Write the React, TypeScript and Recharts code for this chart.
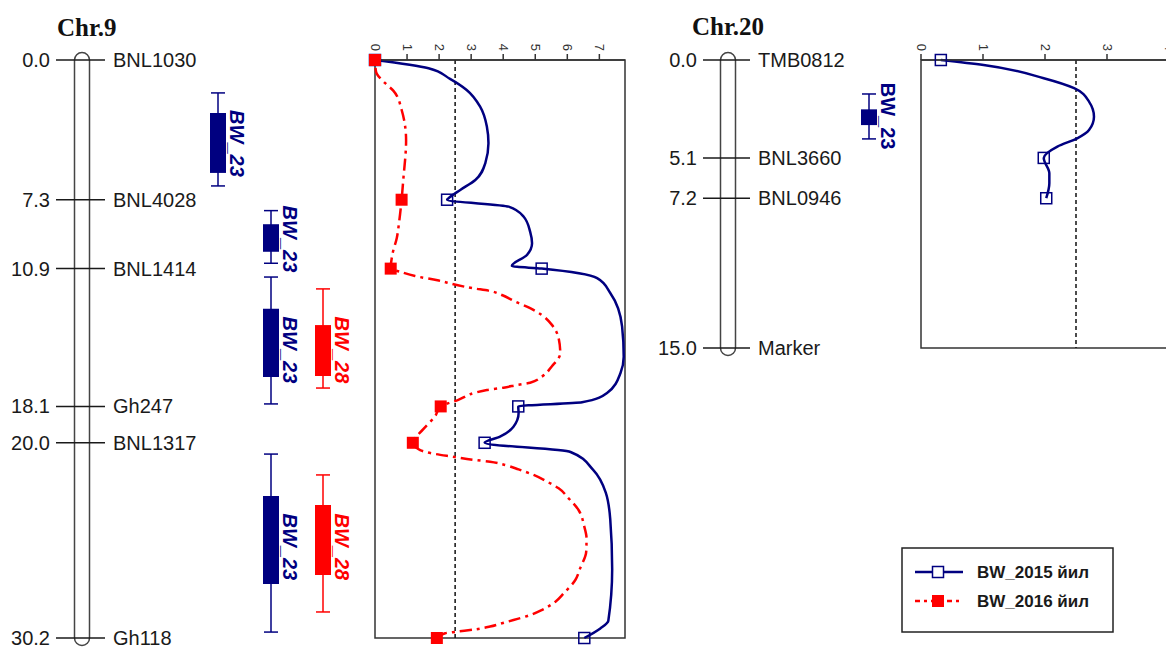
import {
  ComposedChart,
  LineChart,
  Line,
  XAxis,
  YAxis,
  ReferenceLine,
  ReferenceArea,
  ReferenceDot,
} from 'recharts'

const NAVY = '#000080'
const RED = '#FF0000'
const FRAME = '#333333'
const INK = '#1a1a1a'
const SANS = '"Liberation Sans", Arial, sans-serif'
const SERIF = '"Liberation Serif", "Times New Roman", serif'
const RED_DASH = '3 5 12 5'

// linkage maps (cM)
const CHR9_MARKERS = ['BNL1030', 'BNL4028', 'BNL1414', 'Gh247', 'BNL1317', 'Gh118']
const CHR9_POS = [0, 7.3, 10.9, 18.1, 20.0, 30.2]
const CHR20_MARKERS = ['TMB0812', 'BNL3660', 'BNL0946', 'Marker']
const CHR20_POS = [0, 5.1, 7.2, 15.0]

// QTL intervals: whisker lo/hi, box lo/hi, peak
const CHR9_QTL_TRAIT = ['BW_23', 'BW_23', 'BW_23', 'BW_28', 'BW_23', 'BW_28']
const CHR9_QTL_LANE = [0, 1, 1, 2, 1, 2]
const CHR9_QTL_LO = [1.72, 7.87, 11.34, 11.96, 20.59, 21.68]
const CHR9_QTL_BOX_LO = [2.77, 8.58, 13.0, 13.85, 22.78, 23.25]
const CHR9_QTL_PEAK = [4.36, 9.35, 15.15, 15.15, 25.44, 25.44]
const CHR9_QTL_BOX_HI = [5.9, 10.02, 16.56, 16.51, 27.38, 26.91]
const CHR9_QTL_HI = [6.58, 10.62, 17.97, 17.14, 29.89, 28.84]

const CHR20_QTL_TRAIT = ['BW_23']
const CHR20_QTL_LANE = [0]
const CHR20_QTL_LO = [1.77]
const CHR20_QTL_BOX_LO = [2.57]
const CHR20_QTL_PEAK = [2.92]
const CHR20_QTL_BOX_HI = [3.39]
const CHR20_QTL_HI = [4.11]

// LOD profiles
const CHR9_POS_2015 = [0, 0.43, 0.99, 1.57, 2.44, 3.48, 4.35, 5.4, 6.27, 6.79, 7.23, 7.3, 7.66, 8.19, 8.97, 9.58, 10.19, 10.76, 10.9, 11.4, 12.17, 13.93, 15.5, 16.35, 17.4, 17.88, 18.1, 18.46, 19.16, 19.68, 20.0, 20.48, 21.4, 22.6, 24.0, 26.6, 29.3, 29.7, 30.2]
const CHR9_LOD_2015 = [0, 1.67, 2.34, 2.86, 3.28, 3.49, 3.54, 3.44, 3.13, 2.66, 2.29, 2.25, 4.17, 4.64, 4.84, 4.9, 4.74, 4.27, 5.2, 6.93, 7.34, 7.71, 7.76, 7.66, 7.24, 6.46, 4.47, 4.48, 4.32, 3.9, 3.42, 6.1, 6.8, 7.2, 7.34, 7.4, 7.28, 7.03, 6.53]

const CHR9_POS_2016 = [0, 0.6, 1.2, 1.6, 2.6, 4.2, 6.3, 7.3, 8.5, 9.3, 10.1, 10.9, 11.06, 11.29, 11.51, 11.76, 11.93, 12.05, 12.28, 12.63, 12.97, 13.32, 13.84, 14.54, 15.32, 16.0, 16.55, 16.86, 16.98, 17.12, 17.24, 17.38, 17.76, 18.1, 18.6, 19.3, 20.0, 20.38, 20.55, 20.72, 20.9, 20.99, 21.16, 21.39, 21.68, 22.03, 22.38, 22.9, 23.51, 24.38, 24.99, 25.69, 26.56, 27.17, 27.86, 28.3, 28.74, 29.0, 29.26, 29.43, 29.6, 29.75, 29.87, 29.95, 30.2]
const CHR9_LOD_2016 = [0, 0.03, 0.31, 0.57, 0.83, 0.97, 0.88, 0.83, 0.75, 0.68, 0.55, 0.49, 0.78, 1.25, 1.95, 2.55, 3.07, 3.54, 3.96, 4.38, 4.84, 5.2, 5.52, 5.73, 5.78, 5.52, 5.2, 4.84, 4.43, 4.01, 3.49, 3.13, 2.6, 2.05, 1.88, 1.5, 1.18, 1.41, 1.77, 2.4, 3.13, 3.59, 4.06, 4.48, 4.95, 5.37, 5.73, 6.04, 6.35, 6.53, 6.6, 6.59, 6.4, 6.25, 5.89, 5.63, 5.2, 4.84, 4.32, 3.96, 3.59, 3.13, 2.55, 2.19, 1.93]

const CHR20_POS_2015 = [0, 0.26, 0.95, 1.47, 2.17, 2.95, 3.65, 4.08, 4.51, 5.1, 5.9, 6.42, 7.2]
const CHR20_LOD_2015 = [0.32, 1.01, 1.98, 2.47, 2.71, 2.79, 2.71, 2.52, 2.2, 1.98, 2.07, 2.07, 2.02]

const LOD_THRESHOLD = 2.5
const CHR9_LOD_TICKS = [0, 1, 2, 3, 4, 5, 6, 7]
const CHR20_LOD_TICKS = [0, 1, 2, 3, 4]

const LEGEND_LABELS = ['BW_2015 йил', 'BW_2016 йил']

const traitColor = (t: string) => (t === 'BW_28' ? RED : NAVY)

function buildQtl(trait: string[], lane: number[], lo: number[], boxLo: number[], peak: number[], boxHi: number[], hi: number[]) {
  return trait.map((t, i) => ({ trait: t, lane: lane[i], lo: lo[i], boxLo: boxLo[i], peak: peak[i], boxHi: boxHi[i], hi: hi[i] }))
}

function buildSeries(pos: number[], lod: number[]) {
  return pos.map((p, i) => ({ pos: p, lod: lod[i] }))
}

type Qtl = ReturnType<typeof buildQtl>[number]

interface MapProps {
  left: number
  width: number
  height: number
  maxPos: number
  markers: string[]
  positions: number[]
  qtl: Qtl[]
  barX: number
  tickX: [number, number]
  laneX: number[]
  italic: boolean
}

function ChromosomeMap({ left, width, height, maxPos, markers, positions, qtl, barX, tickX, laneX, italic }: MapProps) {
  const data = positions.map(p => ({ pos: p, x: barX }))
  return (
    <div style={{ position: 'absolute', left, top: 0 }}>
      <ComposedChart width={width} height={height} data={data} margin={{ top: 60, right: 0, bottom: 12, left: 0 }}>
        <XAxis type="number" dataKey="x" domain={[0, width]} allowDataOverflow hide />
        <YAxis type="number" dataKey="pos" domain={[0, maxPos]} allowDataOverflow reversed hide />
        <ReferenceArea
          x1={barX}
          x2={barX + 15}
          y1={0}
          y2={maxPos}
          ifOverflow="visible"
          shape={(p: any) => (
            <rect x={p.x} y={p.y - 7.5} width={p.width} height={p.height + 15} rx={7.5} fill="#fff" stroke="#444" strokeWidth={1.5} />
          )}
        />
        {markers.map((name, i) => (
          <ReferenceLine
            key={name}
            ifOverflow="visible"
            segment={[{ x: tickX[0], y: positions[i] }, { x: tickX[1], y: positions[i] }]}
            shape={(p: any) => (
              <g>
                <line x1={p.x1} y1={p.y1} x2={p.x2} y2={p.y2} stroke={INK} strokeWidth={1.5} />
                <text x={p.x1 - 6} y={p.y1} textAnchor="end" dominantBaseline="central" fontFamily={SANS} fontSize={20} fill={INK}>
                  {positions[i].toFixed(1)}
                </text>
                <text x={p.x2 + 8} y={p.y1} dominantBaseline="central" fontFamily={SANS} fontSize={20} fill={INK}>
                  {name}
                </text>
              </g>
            )}
          />
        ))}
        {qtl.map((q, i) => {
          const cx = laneX[q.lane]
          const col = traitColor(q.trait)
          return [
            <ReferenceLine key={`w${i}`} ifOverflow="visible" segment={[{ x: cx, y: q.lo }, { x: cx, y: q.hi }]} stroke={col} strokeWidth={1.5} />,
            <ReferenceLine key={`a${i}`} ifOverflow="visible" segment={[{ x: cx - 7, y: q.lo }, { x: cx + 7, y: q.lo }]} stroke={col} strokeWidth={1.5} />,
            <ReferenceLine key={`b${i}`} ifOverflow="visible" segment={[{ x: cx - 7, y: q.hi }, { x: cx + 7, y: q.hi }]} stroke={col} strokeWidth={1.5} />,
            <ReferenceArea key={`r${i}`} ifOverflow="visible" x1={cx - 8} x2={cx + 8} y1={q.boxLo} y2={q.boxHi} fill={col} fillOpacity={1} stroke="none" />,
            <ReferenceDot
              key={`t${i}`}
              ifOverflow="visible"
              x={cx + 12}
              y={q.peak}
              r={0}
              shape={(p: any) => (
                <text
                  x={p.cx}
                  y={p.cy}
                  transform={`rotate(90, ${p.cx}, ${p.cy})`}
                  textAnchor="middle"
                  fontFamily={SANS}
                  fontSize={20}
                  fontWeight="bold"
                  fontStyle={italic ? 'italic' : 'normal'}
                  fill={col}
                >
                  {q.trait}
                </text>
              )}
            />,
          ]
        })}
      </ComposedChart>
    </div>
  )
}

function RotatedTick(props: any) {
  const { x, y, payload } = props
  return (
    <text x={x} y={y} transform={`rotate(90, ${x}, ${y})`} textAnchor="end" dominantBaseline="central" fontFamily={SANS} fontSize={13} fill="#333">
      {payload.value}
    </text>
  )
}

function blueDot(markers: number[]) {
  return (p: any) =>
    markers.includes(p.payload.pos) ? (
      <rect key={`bd${p.index}`} x={p.cx - 5.5} y={p.cy - 5.5} width={11} height={11} fill="none" stroke={NAVY} strokeWidth={1.5} />
    ) : (
      <g key={`bd${p.index}`} />
    )
}

function redDot(markers: number[]) {
  return (p: any) =>
    markers.includes(p.payload.pos) ? (
      <rect key={`rd${p.index}`} x={p.cx - 6} y={p.cy - 6} width={12} height={12} fill={RED} stroke="none" />
    ) : (
      <g key={`rd${p.index}`} />
    )
}

interface LodProps {
  left: number
  width: number
  height: number
  maxPos: number
  maxLod: number
  ticks: number[]
  markers: number[]
  s2015: { pos: number; lod: number }[]
  s2016?: { pos: number; lod: number }[]
}

function LodProfile({ left, width, height, maxPos, maxLod, ticks, markers, s2015, s2016 }: LodProps) {
  return (
    <div style={{ position: 'absolute', left, top: 0 }}>
      <LineChart layout="vertical" width={width} height={height} margin={{ top: 30, right: 15, bottom: 12, left: 15 }}>
        <XAxis
          type="number"
          orientation="top"
          domain={[0, maxLod]}
          ticks={ticks}
          interval={0}
          height={30}
          tickSize={6}
          tickMargin={3}
          axisLine={{ stroke: FRAME, strokeWidth: 1.5 }}
          tickLine={{ stroke: FRAME, strokeWidth: 1.5 }}
          tick={<RotatedTick />}
        />
        <YAxis type="number" dataKey="pos" domain={[0, maxPos]} hide />
        <ReferenceArea x1={0} x2={maxLod} y1={0} y2={maxPos} fill="none" fillOpacity={0} stroke={FRAME} strokeWidth={1.5} />
        <ReferenceLine x={LOD_THRESHOLD} stroke="#111" strokeWidth={1.5} strokeDasharray="4 3" />
        <Line
          data={s2015}
          dataKey="lod"
          type="monotone"
          stroke={NAVY}
          strokeWidth={2.5}
          dot={blueDot(markers)}
          activeDot={false}
          isAnimationActive={false}
        />
        {s2016 && (
          <Line
            data={s2016}
            dataKey="lod"
            type="monotone"
            stroke={RED}
            strokeWidth={2.5}
            strokeDasharray={RED_DASH}
            dot={redDot(markers)}
            activeDot={false}
            isAnimationActive={false}
          />
        )}
      </LineChart>
    </div>
  )
}

export default function App() {
  const chr9Qtl = buildQtl(CHR9_QTL_TRAIT, CHR9_QTL_LANE, CHR9_QTL_LO, CHR9_QTL_BOX_LO, CHR9_QTL_PEAK, CHR9_QTL_BOX_HI, CHR9_QTL_HI)
  const chr20Qtl = buildQtl(CHR20_QTL_TRAIT, CHR20_QTL_LANE, CHR20_QTL_LO, CHR20_QTL_BOX_LO, CHR20_QTL_PEAK, CHR20_QTL_BOX_HI, CHR20_QTL_HI)

  return (
    <div style={{ position: 'absolute', left: 0, top: 0, width: 1166, height: 650, overflow: 'hidden', background: '#fff' }}>
      <svg width={1166} height={50} style={{ position: 'absolute', left: 0, top: 0 }}>
        <text x={57} y={36} fontFamily={SERIF} fontWeight="bold" fontSize={25} fill="#111">Chr.9</text>
        <text x={692} y={35} fontFamily={SERIF} fontWeight="bold" fontSize={25} fill="#111">Chr.20</text>
      </svg>

      <ChromosomeMap
        left={0}
        width={360}
        height={650}
        maxPos={30.2}
        markers={CHR9_MARKERS}
        positions={CHR9_POS}
        qtl={chr9Qtl}
        barX={74.5}
        tickX={[56, 105]}
        laneX={[218, 271, 323]}
        italic
      />
      <LodProfile
        left={360}
        width={280}
        height={650}
        maxPos={30.2}
        maxLod={7.8}
        ticks={CHR9_LOD_TICKS}
        markers={CHR9_POS}
        s2015={buildSeries(CHR9_POS_2015, CHR9_LOD_2015)}
        s2016={buildSeries(CHR9_POS_2016, CHR9_LOD_2016)}
      />

      <ChromosomeMap
        left={640}
        width={260}
        height={360}
        maxPos={15}
        markers={CHR20_MARKERS}
        positions={CHR20_POS}
        qtl={chr20Qtl}
        barX={80.5}
        tickX={[63, 110]}
        laneX={[229]}
        italic={false}
      />
      <LodProfile
        left={906}
        width={309}
        height={360}
        maxPos={15}
        maxLod={4.5}
        ticks={CHR20_LOD_TICKS}
        markers={CHR20_POS}
        s2015={buildSeries(CHR20_POS_2015, CHR20_LOD_2015)}
      />

      <svg width={214} height={88} style={{ position: 'absolute', left: 901, top: 546 }}>
        <rect x={1} y={2} width={211} height={84} fill="#fff" stroke="#222" strokeWidth={1.5} />
        <line x1={14} y1={26} x2={62} y2={26} stroke={NAVY} strokeWidth={2.5} />
        <rect x={31.5} y={20.5} width={11} height={11} fill="#fff" stroke={NAVY} strokeWidth={1.5} />
        <text x={76} y={26} dominantBaseline="central" fontFamily={SANS} fontWeight="bold" fontSize={17} fill={INK}>
          {LEGEND_LABELS[0]}
        </text>
        <line x1={14} y1={55} x2={62} y2={55} stroke={RED} strokeWidth={2.5} strokeDasharray="5 4 3 4" />
        <rect x={31} y={49} width={12} height={12} fill={RED} />
        <text x={76} y={55} dominantBaseline="central" fontFamily={SANS} fontWeight="bold" fontSize={17} fill={INK}>
          {LEGEND_LABELS[1]}
        </text>
      </svg>
    </div>
  )
}
